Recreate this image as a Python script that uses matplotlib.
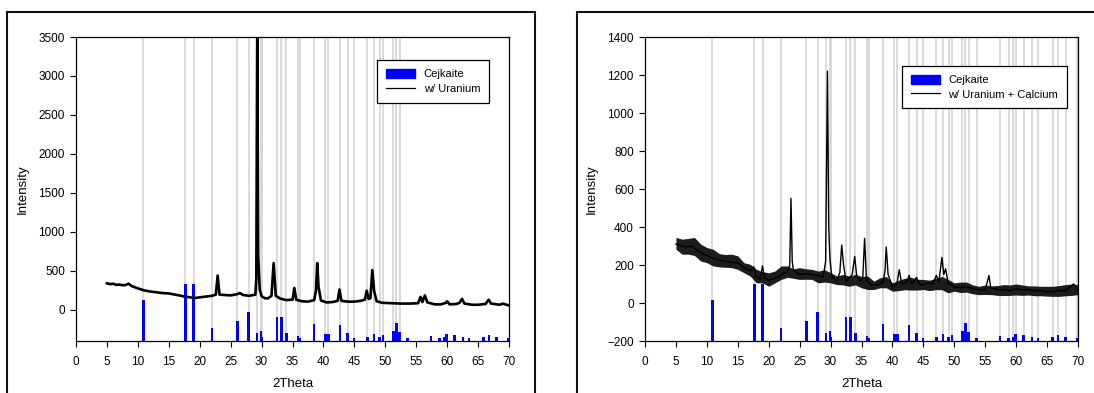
import numpy as np
import matplotlib.pyplot as plt
from matplotlib.patches import Rectangle
from matplotlib.lines import Line2D
from matplotlib.patches import Patch

plt.rcParams["font.family"] = ["Liberation Sans", "DejaVu Sans"]

# Cejkaite reference pattern: 2theta positions and relative intensities (%)
cejk_pos = [10.9, 17.7, 19.0, 22.0, 26.1, 27.9, 29.3, 29.9, 30.1, 32.5, 33.2, 34.0,
            35.9, 36.2, 38.5, 40.3, 40.8, 42.7, 43.9, 44.9, 47.1, 48.2, 49.1, 49.6,
            51.3, 51.8, 52.3, 53.6, 57.4, 58.8, 59.5, 59.9, 61.2, 62.6, 63.5, 65.9,
            66.8, 68.0, 69.9]
cejk_rel = [72, 100, 100, 23, 35, 51, 14, 17, 7, 42, 42, 14,
            9, 5, 30, 12, 13, 28, 14, 6, 7, 13, 7, 11,
            17, 31, 16, 6, 8, 5, 7, 13, 10, 7, 5, 7,
            10, 7, 6]

# sample w/ Uranium
u_x = [5.0, 5.5, 6.0, 6.5, 7.0, 7.5, 8.0, 8.5, 9.0, 10.0, 11.0, 12.0, 13.0, 14.0,
       15.0, 16.0, 17.0, 17.5, 18.5, 19.0, 20.0, 21.0, 22.0, 22.6, 22.9, 23.2,
       24.0, 25.0, 26.0, 26.5, 27.0, 28.0, 29.0, 29.15, 29.3, 29.45, 29.7, 30.0,
       30.5, 31.0, 31.6, 31.95, 32.3, 33.0, 34.0, 35.0, 35.3, 35.6, 36.5, 37.5,
       38.5, 38.8, 39.0, 39.2, 39.6, 40.5, 41.5, 42.3, 42.6, 42.9, 44.0, 45.0,
       46.0, 46.7, 47.0, 47.3, 47.6, 47.9, 48.2, 48.6, 49.5, 51.0, 52.5, 54.0,
       55.3, 55.7, 56.0, 56.4, 56.8, 58.0, 59.0, 59.8, 60.0, 60.4, 61.5, 62.0,
       62.4, 62.8, 64.0, 65.0, 66.2, 66.7, 67.1, 68.5, 69.0, 70.0]
u_y = [340, 330, 335, 320, 325, 315, 318, 335, 305, 275, 250, 235, 225, 215,
       210, 195, 180, 170, 160, 150, 160, 170, 180, 195, 440, 195,
       190, 185, 200, 215, 190, 180, 195, 400, 3700, 700, 260, 175,
       150, 145, 180, 600, 180, 145, 125, 130, 280, 130, 110, 105,
       125, 250, 600, 300, 120, 95, 100, 115, 260, 115, 105, 105,
       115, 130, 245, 140, 150, 510, 240, 110, 90, 85, 80, 80,
       85, 165, 100, 185, 95, 70, 70, 90, 110, 70, 75, 90,
       140, 80, 65, 65, 75, 130, 80, 65, 80, 55]

# sample w/ Uranium + Calcium
uc_x = [5.0, 6.0, 7.0, 7.5, 8.0, 9.0, 10.0, 11.0, 12.0, 13.0, 14.0, 15.0, 16.0,
        17.0, 17.6, 18.0, 18.6, 19.0, 19.3, 20.0, 21.0, 22.0, 23.0, 23.4, 23.6,
        23.8, 24.0, 25.0, 26.0, 27.0, 28.0, 28.8, 29.2, 29.5, 29.7, 29.9, 30.2,
        31.0, 31.5, 31.8, 32.1, 32.5, 33.0, 33.5, 33.9, 34.2, 34.7, 35.2, 35.5,
        35.8, 36.5, 37.5, 38.5, 38.8, 39.0, 39.3, 40.0, 40.7, 41.1, 41.5, 42.3,
        42.7, 43.1, 43.9, 44.3, 45.0, 45.7, 46.5, 47.1, 47.5, 48.0, 48.3, 48.6,
        49.0, 50.0, 51.0, 52.0, 53.0, 54.0, 55.0, 55.6, 55.9, 57.0, 58.0, 59.0,
        60.0, 61.0, 62.0, 63.0, 64.0, 65.0, 66.0, 67.0, 68.0, 69.3, 70.0]
uc_y = [310, 300, 295, 300, 290, 265, 250, 235, 225, 220, 215, 210, 185,
        170, 190, 140, 125, 195, 130, 120, 130, 150, 165, 200, 550,
        220, 170, 150, 155, 150, 145, 135, 220, 1220, 400, 230, 140,
        120, 160, 305, 200, 115, 130, 150, 245, 150, 115, 130, 340,
        120, 95, 95, 110, 170, 295, 150, 85, 95, 175, 100, 110,
        145, 100, 135, 100, 95, 105, 100, 145, 110, 240, 150, 180,
        105, 85, 80, 85, 75, 70, 70, 145, 80, 70, 70, 65,
        75, 70, 70, 65, 65, 60, 60, 65, 65, 100, 70]
# noise band of the U + Ca scan (lower / upper edge)
band_x = list(range(5, 71))
band_lo = [283, 257, 257, 250, 221, 212, 195, 190, 188, 186, 177, 159, 142, 106,
           106, 88, 106, 124, 135, 130, 124, 125, 124, 106, 110, 106, 97, 95, 88,
           95, 80, 71, 71, 80, 80, 62, 65, 70, 68, 68, 71, 65, 70, 70, 53, 62, 55,
           57, 48, 44, 45, 44, 40, 39, 40, 42, 40, 42, 38, 38, 36, 35, 35, 38, 40, 44]
band_hi = [345, 336, 340, 345, 310, 292, 283, 260, 255, 257, 248, 212, 204, 177,
           165, 159, 168, 195, 195, 180, 186, 180, 177, 168, 175, 160, 142, 150, 142,
           150, 140, 142, 115, 133, 140, 106, 120, 130, 135, 125, 124, 120, 130, 140,
           124, 106, 110, 110, 95, 88, 95, 90, 92, 97, 95, 100, 95, 90, 90, 88, 88,
           88, 92, 97, 100, 97]

fig = plt.figure(figsize=(10.94, 3.93), dpi=100)

# outer panel frames
fig.add_artist(Rectangle((7 / 1094, -0.1), 528 / 1094, 1.1 - 12 / 393,
                         transform=fig.transFigure, fill=False, lw=1.5, ec="#111111"))
fig.add_artist(Rectangle((577 / 1094, -0.1), 0.6, 1.1 - 12 / 393,
                         transform=fig.transFigure, fill=False, lw=1.5, ec="#111111"))

ax1 = fig.add_axes([76 / 1094, 1 - 341 / 393, 433 / 1094, 304 / 393])
ax2 = fig.add_axes([645 / 1094, 1 - 341 / 393, 433 / 1094, 304 / 393])


def draw_panel(ax, ymin, ymax, ystep, scale, line_limit):
    pos = np.array(cejk_pos)
    rel = np.array(cejk_rel)
    for p in pos[pos < line_limit]:
        ax.axvline(p, color="#d4d4d4", lw=1.2, zorder=0)
    ax.bar(pos, rel * scale, width=0.4, bottom=ymin, color="#0000ff", zorder=2)
    ax.set_xlim(0, 70)
    ax.set_ylim(ymin, ymax)
    ax.set_xticks(np.arange(0, 71, 5))
    ax.set_yticks(np.arange(0 if ymin < -250 else ymin, ymax + 1, ystep))
    ax.tick_params(direction="out", length=4, width=0.8, labelsize=8.5,
                   top=False, right=False)
    ax.tick_params(axis="x", pad=7)
    ax.tick_params(axis="y", pad=4)
    for s in ax.spines.values():
        s.set_linewidth(0.9)
    ax.set_xlabel("2Theta", fontsize=9.5, labelpad=7)
    ax.set_ylabel("Intensity", fontsize=9.5, labelpad=7)


draw_panel(ax1, -400, 3500, 500, 7.25, 53)
ax1.plot(u_x, u_y, color="black", lw=1.9, zorder=3)

draw_panel(ax2, -200, 1400, 200, 2.99, 71)
ax2.fill_between(band_x, band_lo, band_hi, color="#1c1c1c", lw=0, zorder=3)
ax2.plot(uc_x, uc_y, color="black", lw=1.0, zorder=3)

for ax, name, anchor in [(ax1, "w/ Uranium", (0.695, 0.924)),
                         (ax2, "w/ Uranium + Calcium", (0.593, 0.905))]:
    handles = [Patch(color="#0000ff", label="Cejkaite"),
               Line2D([], [], color="black", lw=0.9, label=name)]
    leg = ax.legend(handles=handles, loc="upper left", bbox_to_anchor=anchor,
                    borderaxespad=0, fontsize=8, fancybox=False, framealpha=1,
                    edgecolor="black", handlelength=2.6, handleheight=0.9,
                    borderpad=0.8, labelspacing=0.35)
    leg.get_frame().set_linewidth(0.9)

plt.savefig("out.png", dpi=100)
